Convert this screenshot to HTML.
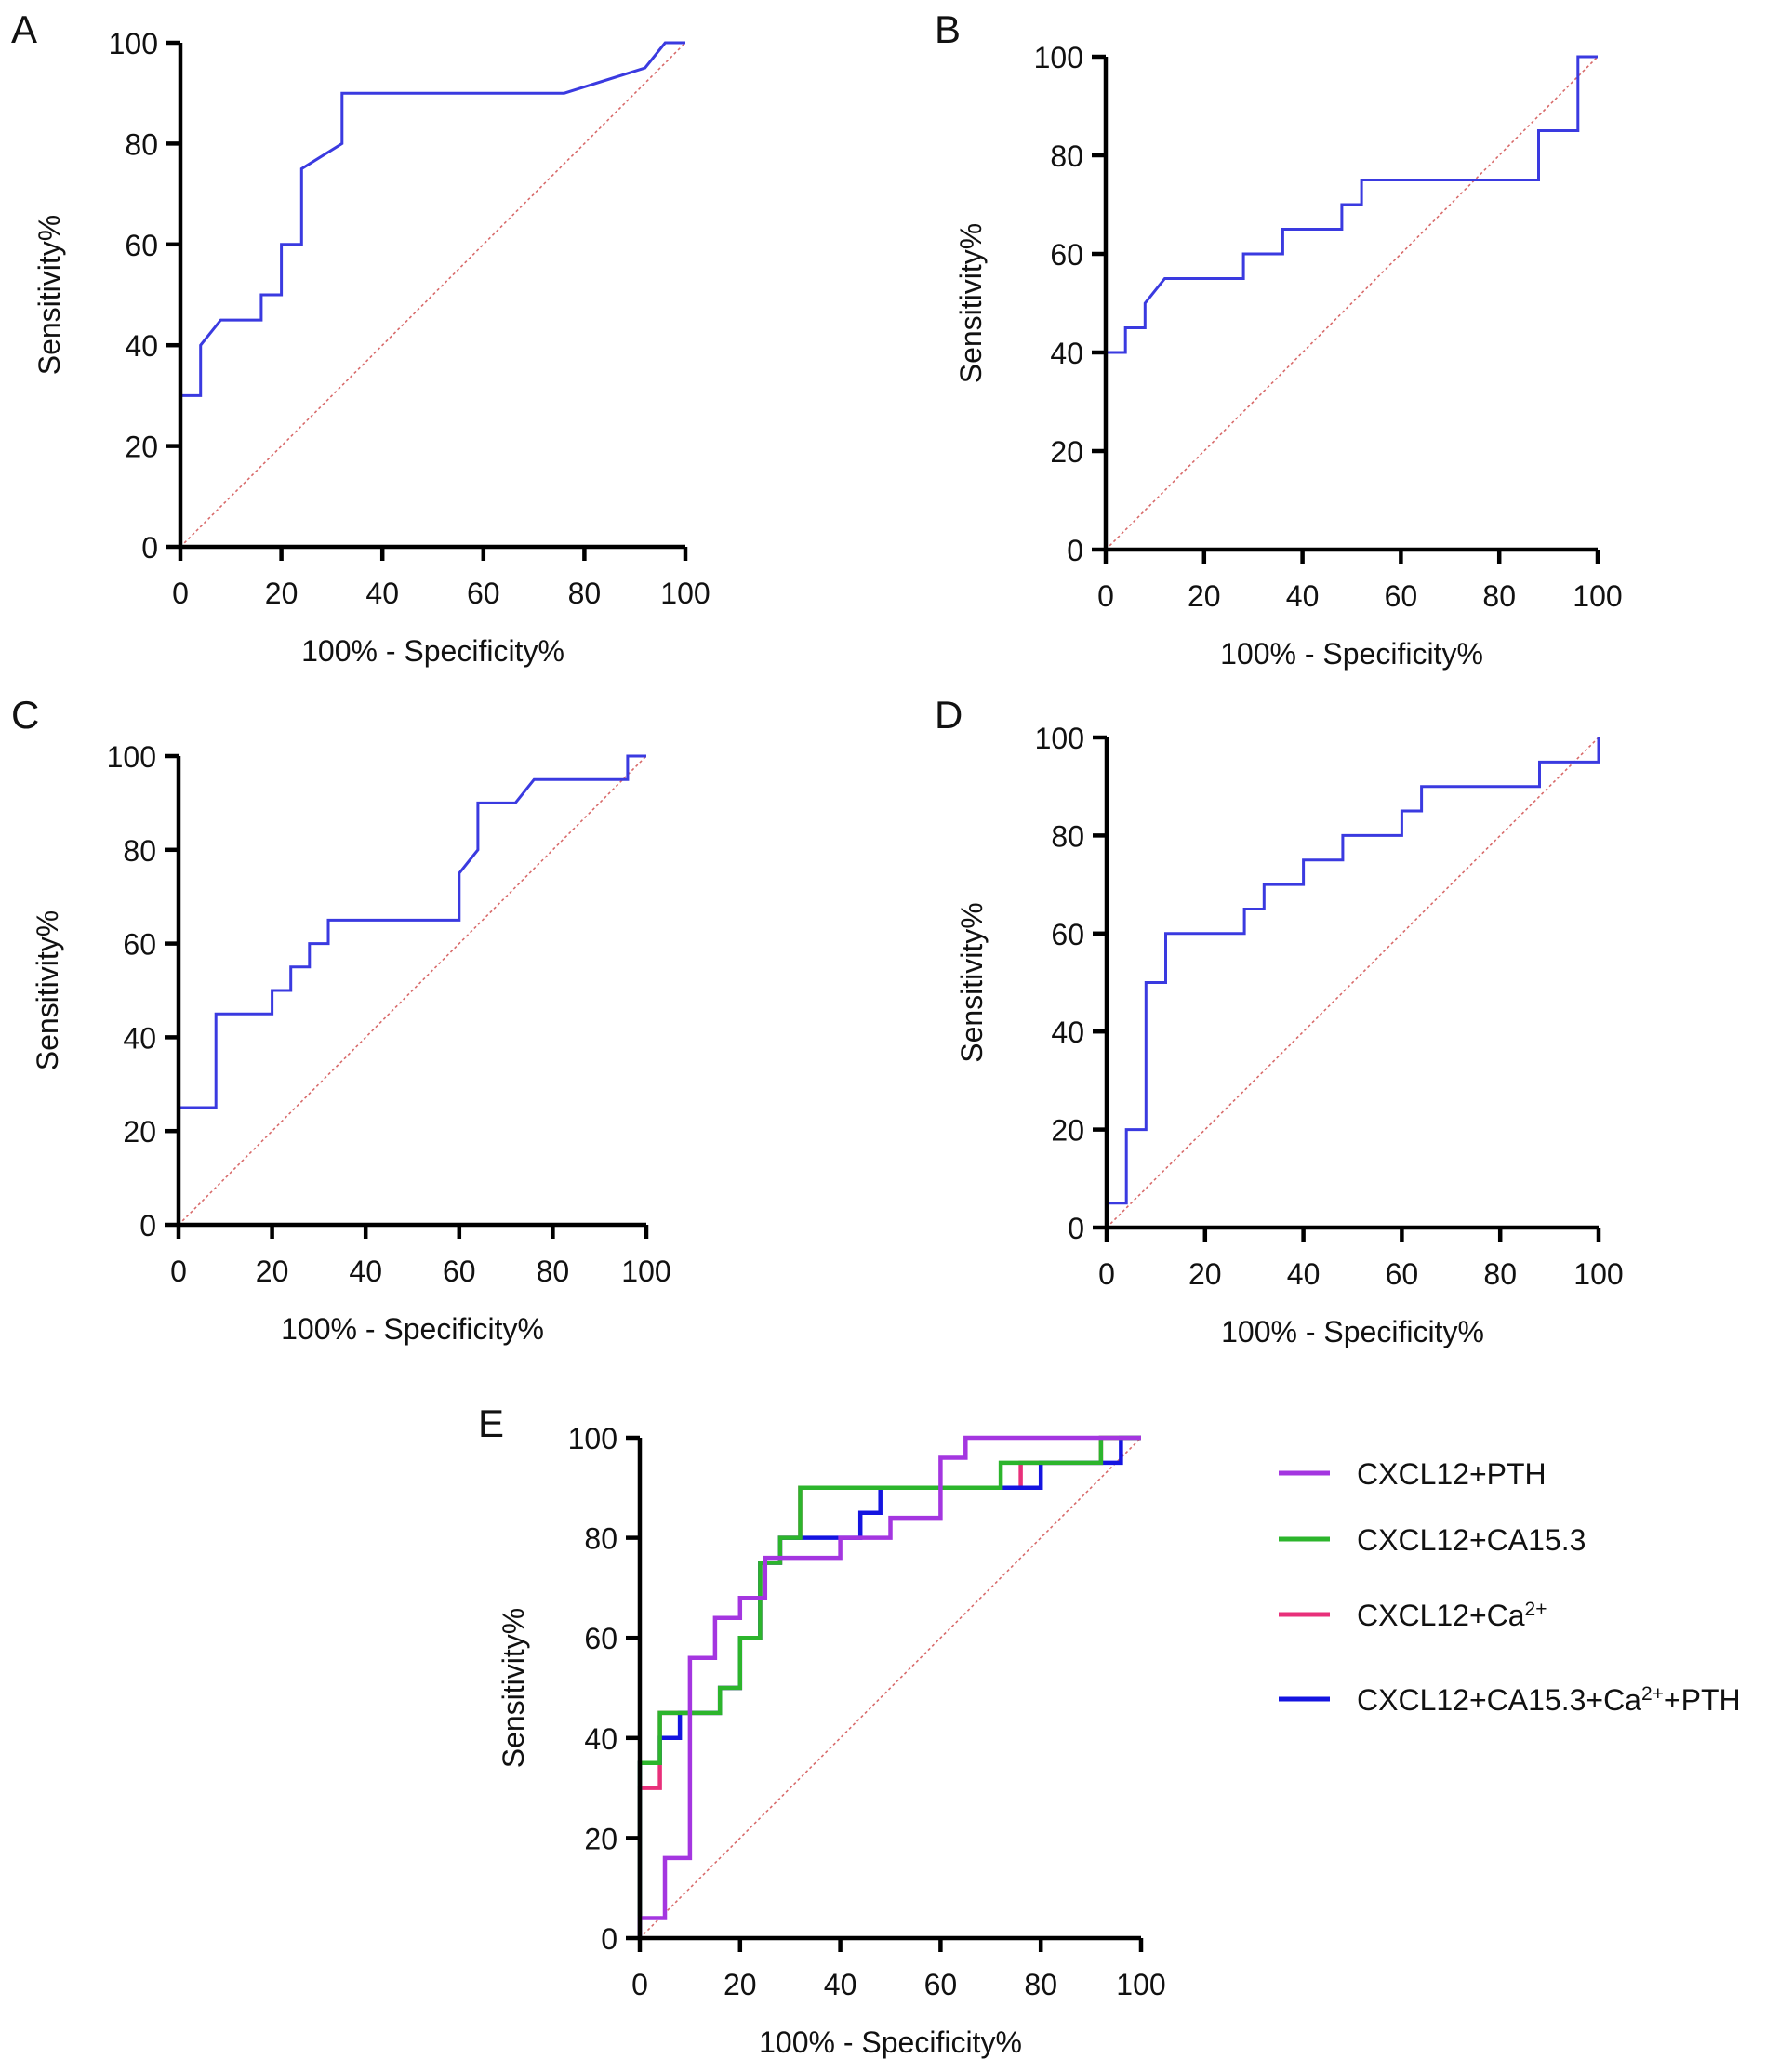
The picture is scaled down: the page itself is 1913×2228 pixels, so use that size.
<!DOCTYPE html>
<html><head><meta charset="utf-8"><style>
body{margin:0;background:#fff}
svg{display:block}
text{font-family:"Liberation Sans",sans-serif;fill:#111}
</style></head><body>
<svg id="fig" width="1913" height="2228" viewBox="0 0 1913 2228" xmlns="http://www.w3.org/2000/svg"></svg>
<script>
const ticks=[0,20,40,60,80,100];
const tickLabels=["0","20","40","60","80","100"];
const aX=[0,0,4,4,8,16,16,20,20,24,24,32,32,76,92,96,100];
const aY=[0,30,30,40,45,45,50,50,60,60,75,80,90,90,95,100,100];
const bX=[0,0,4,4,8,8,12,28,28,36,36,48,48,52,52,88,88,96,96,100];
const bY=[0,40,40,45,45,50,55,55,60,60,65,65,70,70,75,75,85,85,100,100];
const cX=[0,0,8,8,20,20,24,24,28,28,32,32,60,60,64,64,72,76,96,96,100];
const cY=[0,25,25,45,45,50,50,55,55,60,60,65,65,75,80,90,90,95,95,100,100];
const dX=[0,0,4,4,8,8,12,12,28,28,32,32,40,40,48,48,60,60,64,64,88,88,100,100];
const dY=[0,5,5,20,20,50,50,60,60,65,65,70,70,75,75,80,80,85,85,90,90,95,95,100];
const redX=[0,0,4,4,16,16,20,20,24,24,28,28,32,32,72,76,76,92,92,100];
const redY=[0,30,30,45,45,50,50,60,60,75,75,80,80,90,90,90,95,95,100,100];
const blueX=[0,0,4,4,8,8,16,16,20,20,24,24,28,28,32,44,44,48,48,80,80,96,96,100];
const blueY=[0,35,35,40,40,45,45,50,50,60,60,75,75,80,80,80,85,85,90,90,95,95,100,100];
const greenX=[0,0,4,4,16,16,20,20,24,24,28,28,32,32,72,72,92,92,100];
const greenY=[0,35,35,45,45,50,50,60,60,75,75,80,80,90,90,95,95,100,100];
const purpleX=[0,0,5,5,10,10,15,15,20,20,25,25,40,40,50,50,60,60,65,65,100];
const purpleY=[0,4,4,16,16,56,56,64,64,68,68,76,76,80,80,84,84,96,96,100,100];

const NS="http://www.w3.org/2000/svg";
const svg=document.getElementById('fig');
function mk(tag,attrs,parent){const e=document.createElementNS(NS,tag);for(const k in attrs)e.setAttribute(k,attrs[k]);(parent||svg).appendChild(e);return e;}

function panel(p){
  const g=mk('g',{});
  
  
  const sx=v=>p.x0+(p.x1-p.x0)*v/100, sy=v=>p.y0-(p.y0-p.y1)*v/100;
  const lt=mk('text',{x:p.lx,y:p.ly,'font-size':42},g);lt.textContent=p.id;
  
  
  const diag=mk('line',{x1:sx(0),y1:sy(0),x2:sx(100),y2:sy(100),stroke:'#d86a6a','stroke-width':1.6,'stroke-dasharray':'3 3'},g);
  
  
  p.series.forEach(s=>{
    const pts=s.xs.map((v,i)=>sx(v).toFixed(1)+','+sy(s.ys[i]).toFixed(1)).join(' ');
    const pl=mk('polyline',{points:pts,fill:'none',stroke:s.color,'stroke-width':s.w,'stroke-linejoin':'miter'},g);
    
    
  });
  const ax=mk('path',{d:`M${sx(0)},${sy(100)}V${sy(0)}H${sx(100)}`,fill:'none',stroke:'#000','stroke-width':4.5},g);
  
  
  ticks.forEach((t,i)=>{
    mk('line',{x1:sx(0)-15,x2:sx(0),y1:sy(t),y2:sy(t),stroke:'#000','stroke-width':4.5},g);
    mk('line',{x1:sx(t),x2:sx(t),y1:sy(0),y2:sy(0)+15,stroke:'#000','stroke-width':4.5},g);
    const yl=mk('text',{x:sx(0)-24,y:sy(t)+12,'font-size':32,'text-anchor':'end'},g);yl.textContent=tickLabels[i];
    
    
    const xl=mk('text',{x:sx(t),y:sy(0)+61,'font-size':32,'text-anchor':'middle'},g);xl.textContent=tickLabels[i];
    
    
  });
  const xt=mk('text',{x:(sx(0)+sx(100))/2,y:sy(0)+123,'font-size':32,'text-anchor':'middle'},g);xt.textContent='100% - Specificity%';
  
  
  const cy=(sy(0)+sy(100))/2, tx=sx(0)-p.ty;
  const yt=mk('text',{x:tx,y:cy,'font-size':32,'text-anchor':'middle',transform:`rotate(-90 ${tx} ${cy})`},g);yt.textContent='Sensitivity%';
  
  
}
const B='#3a3ae0';
panel({id:'A',x0:194,x1:737,y0:588,y1:46,lx:12,ly:46,ty:130,series:[{name:'a',xs:aX,ys:aY,color:B,w:3}]});
panel({id:'B',x0:1189,x1:1718,y0:591,y1:61,lx:1005,ly:46,ty:134,series:[{name:'b',xs:bX,ys:bY,color:B,w:3}]});
panel({id:'C',x0:192,x1:695,y0:1317,y1:813,lx:12,ly:783,ty:130,series:[{name:'c',xs:cX,ys:cY,color:B,w:3}]});
panel({id:'D',x0:1190,x1:1719,y0:1320,y1:793,lx:1005,ly:783,ty:134,series:[{name:'d',xs:dX,ys:dY,color:B,w:3}]});
panel({id:'E',x0:688,x1:1227,y0:2084,y1:1546,lx:514,ly:1545,ty:125,series:[
 {name:'cxcl12-ca2',xs:redX,ys:redY,color:'#e8307a',w:4.5},
 {name:'cxcl12-all',xs:blueX,ys:blueY,color:'#1414e0',w:4.5},
 {name:'cxcl12-ca153',xs:greenX,ys:greenY,color:'#2cb52c',w:4.5},
 {name:'cxcl12-pth',xs:purpleX,ys:purpleY,color:'#a436e0',w:4.5}]});

const legendNames=['CXCL12+PTH','CXCL12+CA15.3','CXCL12+Ca<tspan baseline-shift="super" font-size="21">2+</tspan>','CXCL12+CA15.3+Ca<tspan baseline-shift="super" font-size="21">2+</tspan>+PTH'];
const legendColors=['#a436e0','#2cb52c','#e8307a','#1414e0'];
const legendY=[1584,1655,1736,1827];
const lg=mk('g',{});


legendNames.forEach((n,i)=>{
  const e=mk('g',{},lg);
  
  
  mk('line',{x1:1375,x2:1430,y1:legendY[i],y2:legendY[i],stroke:legendColors[i],'stroke-width':5},e);
  const t=mk('text',{x:1459,y:legendY[i]+12,'font-size':32},e);t.innerHTML=n;
});
</script>
</body></html>
